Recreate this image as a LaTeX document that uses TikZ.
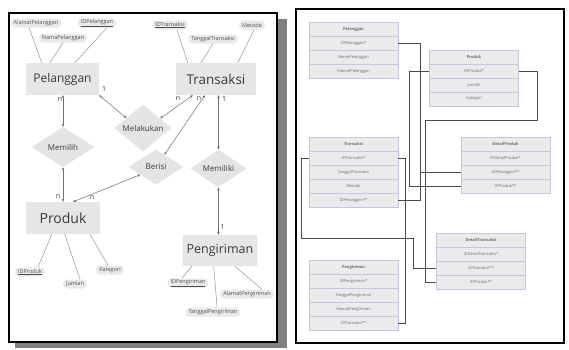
\documentclass[tikz,border=0pt]{standalone}
\usepackage{fontspec}
\setmainfont{Open Sans}
\usetikzlibrary{shapes.geometric,arrows.meta,calc}
\definecolor{entfill}{HTML}{E6E6E6}
\definecolor{relfill}{HTML}{E4E4E4}
\definecolor{attrfill}{HTML}{E9E9E9}
\definecolor{txtc}{HTML}{3A3A3A}
\definecolor{attrtxt}{HTML}{505050}
\definecolor{linec}{HTML}{707070}
\definecolor{attrlinec}{HTML}{8C8C8C}
\definecolor{rowfill}{HTML}{ECEBEB}
\definecolor{rowline}{HTML}{C9C5E0}
\definecolor{rowtext}{HTML}{6A6A6A}
\definecolor{connc}{HTML}{4A4A4A}
\definecolor{shadowc}{HTML}{808080}
\begin{document}
\begin{tikzpicture}[x=1pt,y=-1pt,
  ent/.style={fill=entfill, inner sep=0pt, text=txtc},
  rel/.style={diamond, fill=relfill, inner sep=0pt, text=txtc, font=\fontsize{8}{9}\selectfont},
  attr/.style={fill=attrfill, rounded corners=4pt, inner xsep=3pt, minimum height=9pt, inner ysep=0pt, text=attrtxt, font=\fontsize{5.5}{6}\selectfont},
  lbl/.style={inner sep=0pt, text=txtc, font=\fontsize{7}{8}\selectfont},
  attrline/.style={draw=attrlinec, line width=0.45pt},
  arr/.style={draw=linec, line width=0.5pt, {Stealth[length=3pt,width=2.6pt]}-{Stealth[length=3pt,width=2.6pt]}},
  row/.style={draw=rowline, fill=rowfill, line width=0.4pt, minimum width=89pt, minimum height=14pt, inner sep=0pt, text=rowtext, font=\fontsize{4}{5}\selectfont},
  conn/.style={draw=connc, line width=0.6pt}
]
\useasboundingbox (0,0) rectangle (569,349);
% panels
\fill[shadowc] (15,19) rectangle (287,348);
\filldraw[fill=white, draw=black, line width=1.8pt] (9,13) rectangle (277,342);
\filldraw[fill=white, draw=black, line width=1.8pt] (296,9) rectangle (564,343);

% ===== left: ER diagram =====
\node[ent, minimum width=73pt, minimum height=32pt, font=\fontsize{12}{14}\selectfont] (pel) at (62.5,79) {Pelanggan};
\node[ent, minimum width=80pt, minimum height=32pt, font=\fontsize{13.5}{15}\selectfont] (tra) at (216,79) {Transaksi};
\node[ent, minimum width=74pt, minimum height=32pt, font=\fontsize{14}{16}\selectfont] (pro) at (63,218) {Produk};
\node[ent, minimum width=74pt, minimum height=31pt, font=\fontsize{12.5}{14}\selectfont] (pen) at (220,250.5) {Pengiriman};

\node[rel, minimum width=57pt, minimum height=35pt] (mel) at (143,128) {Melakukan};
\node[rel, minimum width=63pt, minimum height=40pt] (mem) at (63,147) {Memilih};
\node[rel, minimum width=55pt, minimum height=35pt] (ber) at (156,167) {Berisi};
\node[rel, minimum width=56pt, minimum height=37pt] (mil) at (218.5,168.5) {Memiliki};

\node[attr] (apel) at (36,23) {AlamatPelanggan};
\node[attr] (npel) at (63,38) {NamaPelanggan};
\node[attr] (idpel) at (97,23) {\underline{IDPelanggan}};
\node[attr] (idtra) at (170,25) {\underline{IDTransaksi}};
\node[attr] (ttra) at (213,39) {TanggalTransaksi};
\node[attr] (met) at (252,25) {Metode};
\node[attr] (idpro) at (30,272) {\underline{IDProduk}};
\node[attr] (jum) at (75,284) {Jumlah};
\node[attr] (kat) at (110,270) {Kategori};
\node[attr] (idpen) at (188,283) {\underline{IDPengiriman}};
\node[attr] (apen) at (247,294) {AlamatPengiriman};
\node[attr] (tpen) at (213,312) {TanggalPengiriman};

\draw[attrline] ($(apel.south)+(-7,0)$) -- ($(pel.north west)+(16,0)$);
\draw[attrline] (npel.south) -- ($(pel.north west)+(24,0)$);
\draw[attrline] ($(idpel.south)+(10,0)$) -- ($(pel.north west)+(49,0)$);
\draw[attrline] ($(idtra.south)+(7,0)$) -- ($(tra.north west)+(12,0)$);
\draw[attrline] (ttra.south) -- ($(tra.north west)+(25,0)$);
\draw[attrline] ($(met.south)+(2,0)$) -- ($(tra.north west)+(62,0)$);
\draw[attrline] ($(pro.south west)+(26,0)$) -- ($(idpro.north)+(8,0)$);
\draw[attrline] ($(pro.south west)+(39,0)$) -- ($(jum.north)+(5,0)$);
\draw[attrline] ($(pro.south west)+(64,0)$) -- ($(kat.north)+(-2,0)$);
\draw[attrline] ($(pen.south west)+(9,0)$) -- ($(idpen.north)+(-6,0)$);
\draw[attrline] ($(pen.south west)+(31,0)$) -- ($(tpen.north)+(4,0)$);
\draw[attrline] ($(pen.south west)+(52,0)$) -- ($(apen.north)+(15,0)$);

\draw[arr] (pel.south east) -- (mel.149);
\draw[arr] (tra.215) -- (mel.29);
\draw[arr] (tra) -- (ber);
\draw[arr] (pel.south -| mem.north) -- (mem.north);
\draw[arr] (mem.south) -- (mem.south |- pro.north);
\draw[arr] (ber.206) -- (pro.58);
\draw[arr] (tra.south -| mil.north) -- (mil.north);
\draw[arr] (mil.south) -- (mil.south |- pen.north);

\node[lbl] (l1) at (60,100) {n};
\node[lbl] (l2) at (104,89) {1};
\node[lbl] (l3) at (178,99) {n};
\node[lbl] (l4) at (199,99) {n};
\node[lbl] (l5) at (224,99) {1};
\node[lbl] (l6) at (58,197) {n};
\node[lbl] (l7) at (92,198) {n};
\node[lbl] (l8) at (222.5,227) {1};

% ===== right: relational tables =====
\node[row] (p1) at (353.5,29) {\textbf{Pelanggan}};
\node[row] (p2) at (353.5,43) {IDPelanggan*};
\node[row] (p3) at (353.5,57) {NamaPelanggan};
\node[row] (p4) at (353.5,71) {AlamatPelanggan};

\node[row] (pr1) at (474,57) {\textbf{Produk}};
\node[row] (pr2) at (474,71) {IDProduk*};
\node[row] (pr3) at (474,85) {Jumlah};
\node[row] (pr4) at (474,99) {Kategori};

\node[row] (t1) at (353.5,144) {\textbf{Transaksi}};
\node[row] (t2) at (353.5,158) {IDTransaksi*};
\node[row] (t3) at (353.5,172) {TanggalTransaksi};
\node[row] (t4) at (353.5,186) {Metode};
\node[row] (t5) at (353.5,200) {IDPelanggan**};

\node[row] (dp1) at (505.5,144) {\textbf{DetailProduk}};
\node[row] (dp2) at (505.5,158) {IDDetailProduk*};
\node[row] (dp3) at (505.5,172) {IDPelanggan**};
\node[row] (dp4) at (505.5,186) {IDProduk**};

\node[row] (dt1) at (481,240) {\textbf{DetailTransaksi}};
\node[row] (dt2) at (481,254) {IDDetailTransaksi*};
\node[row] (dt3) at (481,268) {IDTransaksi**};
\node[row] (dt4) at (481,282) {IDProduk**};

\node[row] (pg1) at (353.5,267) {\textbf{Pengiriman}};
\node[row] (pg2) at (353.5,281) {IDPengiriman*};
\node[row] (pg3) at (353.5,295) {TanggalPengiriman};
\node[row] (pg4) at (353.5,309) {AlamatPengiriman};
\node[row] (pg5) at (353.5,323) {IDTransaksi**};

\draw[conn] (p2.east) -- ++(22,0) |- (t5.east);
\draw[conn] (p2.east) -- ++(22,0) |- (dp3.west);
\draw[conn] (pr2.west) -- ++(-20,0) |- (dp4.west);
\draw[conn] (pr2.east) -- ++(19,0) -- ++(0,49) -- ++(-112,0) |- (dt4.west);
\draw[conn] (t2.west) -- ++(-8,0) -- ++(0,80) -- ++(112,0) |- (dt3.west);
\draw[conn] (t2.east) -- ++(7,0) |- (pg5.east);
\end{tikzpicture}
\end{document}
